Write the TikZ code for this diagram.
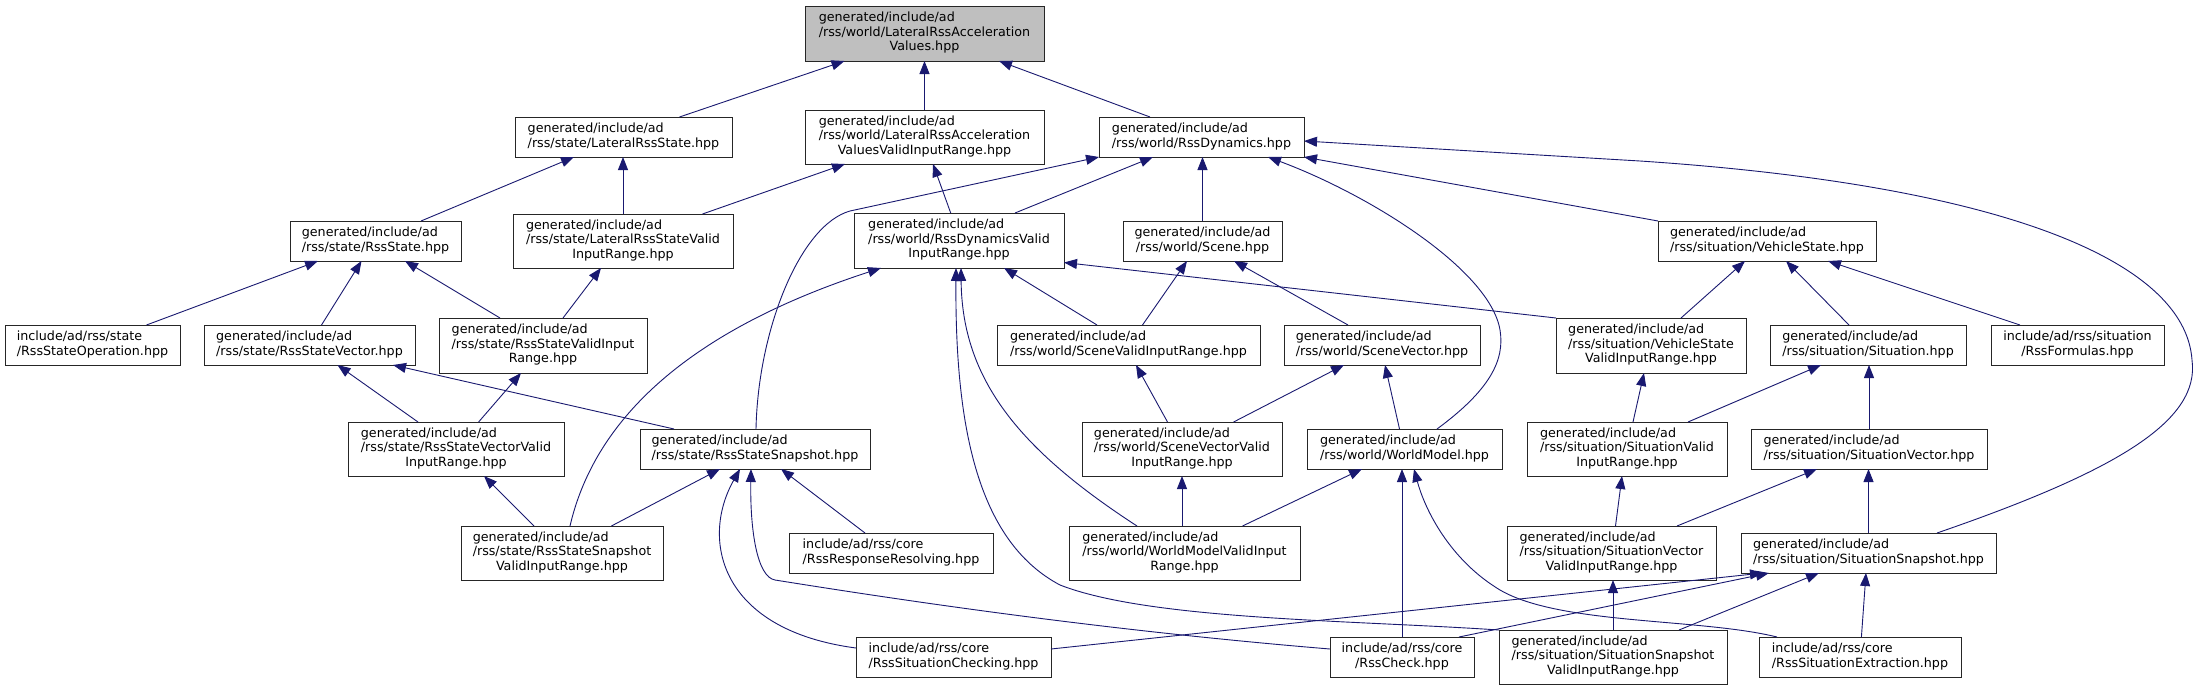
\documentclass[tikz,border=0pt]{standalone}
\usepackage{fontspec}
\setmainfont{DejaVu Sans}
\usetikzlibrary{arrows.meta}
\definecolor{edgeblue}{HTML}{191970}
\definecolor{rootgray}{HTML}{BFBFBF}
\newcommand\dl[1]{\begin{tabular}{@{}l@{}}#1\end{tabular}}
\newcommand\dc[1]{\multicolumn{1}{@{}c@{}}{#1}}
\newcommand\bx[6]{\node[nbox,minimum width=#4pt,minimum height=#5pt] (#1) at (#2,-#3) {\dl{#6}};}
\begin{document}
\begin{tikzpicture}[x=1pt,y=1pt,
  nbox/.style={draw=black!85,line width=1pt,fill=white,inner sep=0pt,outer sep=0pt,font=\fontsize{12.7}{14.5}\selectfont},
  edge/.style={draw=edgeblue,line width=0.9pt,-{Triangle[length=13pt,width=10pt]}}]
\useasboundingbox (0,0) rectangle (2198,-691);
\fill[white] (0,0) rectangle (2198,-691);
% nodes
\node[nbox,fill=rootgray,minimum width=239pt,minimum height=55pt] (root) at (924.5,-33.5) {\dl{generated/include/ad\\/rss/world/LateralRssAcceleration\\\dc{Values.hpp}}};
\bx{lrs}{623.5}{137}{217}{40}{generated/include/ad\\\dc{/rss/state/LateralRssState.hpp}}
\bx{lravvir}{924.5}{137}{239}{54}{generated/include/ad\\/rss/world/LateralRssAcceleration\\\dc{ValuesValidInputRange.hpp}}
\bx{dyn}{1201.5}{137}{205}{40}{generated/include/ad\\\dc{/rss/world/RssDynamics.hpp}}
\bx{state}{375.5}{241}{171}{40}{generated/include/ad\\\dc{/rss/state/RssState.hpp}}
\bx{lrsvir}{623}{241}{220}{54}{generated/include/ad\\/rss/state/LateralRssStateValid\\\dc{InputRange.hpp}}
\bx{dynvir}{959}{240.5}{210}{55}{generated/include/ad\\/rss/world/RssDynamicsValid\\\dc{InputRange.hpp}}
\bx{scene}{1202.5}{241}{159}{40}{generated/include/ad\\\dc{/rss/world/Scene.hpp}}
\bx{vstate}{1767}{241}{218}{40}{generated/include/ad\\\dc{/rss/situation/VehicleState.hpp}}
\bx{stateop}{92.5}{345}{175}{40}{include/ad/rss/state\\\dc{/RssStateOperation.hpp}}
\bx{statevec}{309.5}{345}{211}{40}{generated/include/ad\\\dc{/rss/state/RssStateVector.hpp}}
\bx{statevir}{543}{345.5}{208}{55}{generated/include/ad\\/rss/state/RssStateValidInput\\\dc{Range.hpp}}
\bx{scenevir}{1128.5}{345}{263}{40}{generated/include/ad\\\dc{/rss/world/SceneValidInputRange.hpp}}
\bx{scenevec}{1382}{345}{196}{40}{generated/include/ad\\\dc{/rss/world/SceneVector.hpp}}
\bx{vsvir}{1651}{345.5}{190}{55}{generated/include/ad\\/rss/situation/VehicleState\\\dc{ValidInputRange.hpp}}
\bx{situation}{1868}{345}{196}{40}{generated/include/ad\\\dc{/rss/situation/Situation.hpp}}
\bx{formulas}{2077.5}{345}{173}{40}{include/ad/rss/situation\\\dc{/RssFormulas.hpp}}
\bx{statevecvir}{456}{449}{216}{54}{generated/include/ad\\/rss/state/RssStateVectorValid\\\dc{InputRange.hpp}}
\bx{snap}{755}{449}{230}{40}{generated/include/ad\\\dc{/rss/state/RssStateSnapshot.hpp}}
\bx{scenevecvir}{1182}{449}{200}{54}{generated/include/ad\\/rss/world/SceneVectorValid\\\dc{InputRange.hpp}}
\bx{world}{1404.5}{449}{195}{40}{generated/include/ad\\\dc{/rss/world/WorldModel.hpp}}
\bx{sitvir}{1627}{449}{200}{54}{generated/include/ad\\/rss/situation/SituationValid\\\dc{InputRange.hpp}}
\bx{sitvec}{1869}{449}{236}{40}{generated/include/ad\\\dc{/rss/situation/SituationVector.hpp}}
\bx{snapvir}{562}{553}{202}{54}{generated/include/ad\\/rss/state/RssStateSnapshot\\\dc{ValidInputRange.hpp}}
\bx{response}{891}{553}{204}{40}{include/ad/rss/core\\\dc{/RssResponseResolving.hpp}}
\bx{worldvir}{1184.5}{553}{231}{54}{generated/include/ad\\/rss/world/WorldModelValidInput\\\dc{Range.hpp}}
\bx{sitvecvir}{1611.5}{553}{209}{54}{generated/include/ad\\/rss/situation/SituationVector\\\dc{ValidInputRange.hpp}}
\bx{sitsnap}{1868.5}{553}{255}{40}{generated/include/ad\\\dc{/rss/situation/SituationSnapshot.hpp}}
\bx{checking}{953.5}{657}{195}{40}{include/ad/rss/core\\\dc{/RssSituationChecking.hpp}}
\bx{check}{1402}{657}{144}{40}{include/ad/rss/core\\\dc{/RssCheck.hpp}}
\bx{sitsnapvir}{1613}{657}{228}{54}{generated/include/ad\\/rss/situation/SituationSnapshot\\\dc{ValidInputRange.hpp}}
\bx{extraction}{1860}{657}{202}{40}{include/ad/rss/core\\\dc{/RssSituationExtraction.hpp}}
% edges
\draw[edge] ([xshift=56pt]lrs.north) -- ([xshift=-80pt]root.south);
\draw[edge] (lravvir.north) -- (root.south);
\draw[edge] ([xshift=-51.5pt]dyn.north) -- ([xshift=74.5pt]root.south);
\draw[edge] ([xshift=45.5pt]state.north) -- ([xshift=-49.5pt]lrs.south);
\draw[edge] (lrsvir.north) -- (lrsvir.north |- lrs.south);
\draw[edge] ([xshift=79.5pt]lrsvir.north) -- ([xshift=-79.5pt]lravvir.south);
\draw[edge] ([xshift=-8.3pt]dynvir.north) -- ([xshift=8.5pt]lravvir.south);
\draw[edge] ([xshift=56pt]dynvir.north) -- ([xshift=-48.5pt]dyn.south);
\draw[edge] ([xshift=1pt]snap.north) .. controls (758,-330) and (800,-225) .. (850,-211) -- (dyn.south west);
\draw[edge] (scene.north) -- (scene.north |- dyn.south);
\draw[edge] ([xshift=32.5pt]world.north) .. controls (1490,-390) and (1505,-360) .. (1500,-330) .. controls (1490,-270) and (1370,-195) .. ([xshift=-36pt]dyn.south east);
\draw[edge] (vstate.north west) -- (dyn.south east);
\draw[edge] ([xshift=68.5pt]sitsnap.north) .. controls (2120,-470) and (2200,-420) .. (2192,-360) .. controls (2185,-260) and (2000,-185) .. (1640,-161) -- ([yshift=-4pt]dyn.east);
\draw[edge] ([xshift=54pt]stateop.north) -- ([xshift=-57.5pt]state.south);
\draw[edge] ([xshift=12pt]statevec.north) -- ([xshift=-14pt]state.south);
\draw[edge] ([xshift=-43pt]statevir.north) -- ([xshift=29.5pt]state.south);
\draw[edge] ([xshift=20pt]statevir.north) -- ([xshift=-22pt]lrsvir.south);
\draw[edge] ([xshift=8pt]snapvir.north) .. controls (590,-440) and (660,-340) .. ([xshift=-78pt]dynvir.south);
\draw[edge] ([xshift=-31.5pt]scenevir.north) -- ([xshift=45pt]dynvir.south);
\draw[edge] ([xshift=-47.5pt]worldvir.north) .. controls (1020,-450) and (962,-380) .. ([xshift=2pt]dynvir.south);
\draw[edge] (sitsnapvir.north west) .. controls (1350,-620) and (1150,-620) .. (1060,-585) .. controls (975,-540) and (955,-420) .. ([xshift=-3pt]dynvir.south);
\draw[edge] (vsvir.north west) -- ([yshift=-22pt]dynvir.east);
\draw[edge] ([xshift=14pt]scenevir.north) -- ([xshift=-15.5pt]scene.south);
\draw[edge] ([xshift=-34pt]scenevec.north) -- ([xshift=31.5pt]scene.south);
\draw[edge] ([xshift=30pt]vsvir.north) -- ([xshift=-22pt]vstate.south);
\draw[edge] ([xshift=-19pt]situation.north) -- ([xshift=19pt]vstate.south);
\draw[edge] ([xshift=-57.5pt]formulas.north) -- ([xshift=61pt]vstate.south);
\draw[edge] ([xshift=-38pt]statevecvir.north) -- ([xshift=28pt]statevec.south);
\draw[edge] ([xshift=-81pt]snap.north) -- ([xshift=83.5pt]statevec.south);
\draw[edge] ([xshift=22.6pt]statevecvir.north) -- ([xshift=-22pt]statevir.south);
\draw[edge] ([xshift=-14.5pt]scenevecvir.north) -- ([xshift=7.5pt]scenevir.south);
\draw[edge] ([xshift=51.6pt]scenevecvir.north) -- ([xshift=-38pt]scenevec.south);
\draw[edge] ([xshift=-5pt]world.north) -- ([xshift=3pt]scenevec.south);
\draw[edge] ([xshift=6pt]sitvir.north) -- ([xshift=-7pt]vsvir.south);
\draw[edge] ([xshift=61pt]sitvir.north) -- ([xshift=-47pt]situation.south);
\draw[edge] (sitvec.north) -- (sitvec.north |- situation.south);
\draw[edge] ([xshift=-28pt]snapvir.north) -- ([xshift=28pt]statevecvir.south);
\draw[edge] ([xshift=49.4pt]snapvir.north) -- ([xshift=-35pt]snap.south);
\draw[edge] ([xshift=-26pt]response.north) -- ([xshift=26pt]snap.south);
\draw[edge] ([yshift=9pt]checking.west) .. controls (720,-630) and (700,-540) .. ([xshift=-15pt]snap.south);
\draw[edge] ([yshift=8pt]check.west) .. controls (1100,-630) and (900,-600) .. (775,-580) .. controls (757,-577) and (750,-530) .. ([xshift=-4pt]snap.south);
\draw[edge] (worldvir.north -| scenevecvir.south) -- (scenevecvir.south);
\draw[edge] ([xshift=58pt]worldvir.north) -- ([xshift=-42.5pt]world.south);
\draw[edge] (check.north) -- (check.north |- world.south);
\draw[edge] ([xshift=18pt]extraction.north west) .. controls (1700,-618) and (1560,-625) .. (1500,-590) .. controls (1450,-560) and (1425,-510) .. ([xshift=9.5pt]world.south);
\draw[edge] ([xshift=4pt]sitvecvir.north) -- ([xshift=-5pt]sitvir.south);
\draw[edge] ([xshift=65.5pt]sitvecvir.north) -- ([xshift=-52pt]sitvec.south);
\draw[edge] (sitsnap.north) -- (sitsnap.north |- sitvec.south);
\draw[edge] (sitsnapvir.north) -- (sitsnapvir.north |- sitvecvir.south);
\draw[edge] ([yshift=8pt]checking.east) -- ([xshift=22pt]sitsnap.south west);
\draw[edge] ([xshift=-15pt]check.north east) -- ([xshift=28pt]sitsnap.south west);
\draw[edge] ([xshift=66pt]sitsnapvir.north) -- ([xshift=-49.5pt]sitsnap.south);
\draw[edge] ([xshift=1.4pt]extraction.north) -- ([xshift=-2.5pt]sitsnap.south);
\end{tikzpicture}
\end{document}
